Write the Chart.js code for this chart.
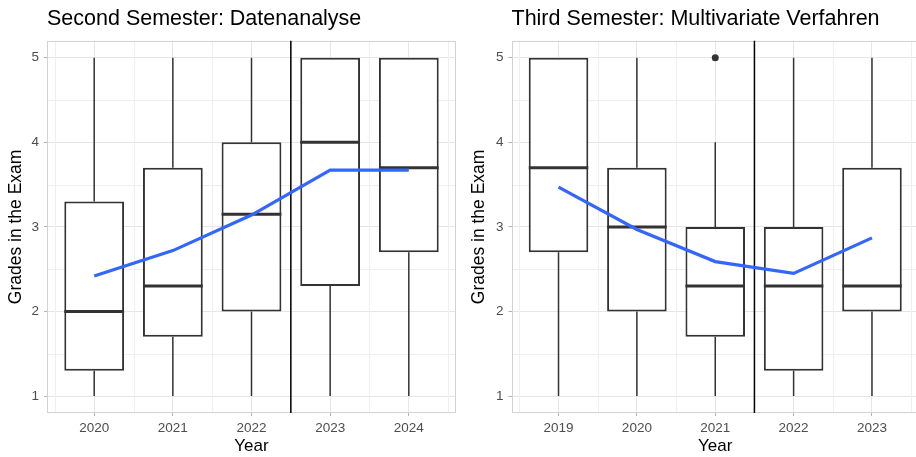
<!DOCTYPE html>
<html>
<head>
<meta charset="utf-8">
<script src="https://cdn.jsdelivr.net/npm/chart.js@4/dist/chart.umd.min.js"></script>
<style>
    html, body { margin: 0; padding: 0; background: #fff; }
    body { width: 916px; height: 457px; overflow: hidden; position: relative; }
    canvas { position: absolute; top: 0; }
    #left { left: 0; }
    #right { left: 458px; }
</style>
</head>
<body>
<canvas id="left" width="458" height="457"></canvas>
<canvas id="right" width="461" height="457"></canvas>
<script>
// Second semester: Datenanalyse
const years2 = ['2020', '2021', '2022', '2023', '2024'];
const low2 = [1, 1, 1, 1, 1];
const q1Sem2 = [1.3, 1.7, 2.0, 2.3, 2.7];
const median2 = [2.0, 2.3, 3.15, 4.0, 3.7];
const q3Sem2 = [3.3, 3.7, 4.0, 5.0, 5.0];
const high2 = [5, 5, 5, 5, 5];
const mean2 = [2.42, 2.72, 3.14, 3.67, 3.67];
const outliers2 = [];
const split2 = 2.5; // between 2022 and 2023

// Third semester: Multivariate Verfahren
const years3 = ['2019', '2020', '2021', '2022', '2023'];
const low3 = [1, 1, 1, 1, 1];
const q1Sem3 = [2.7, 2.0, 1.7, 1.3, 2.0];
const median3 = [3.7, 3.0, 2.3, 2.3, 2.3];
const q3Sem3 = [5.0, 3.7, 3.0, 3.0, 3.7];
const high3 = [5, 5, 4, 5, 5];
const mean3 = [3.47, 2.97, 2.59, 2.45, 2.87];
const outliers3 = [{ year: '2021', value: 5 }];
const split3 = 2.5; // between 2021 and 2022

const yTicks = [1, 2, 3, 4, 5];
const yMinor = [1.5, 2.5, 3.5, 4.5];

Chart.defaults.font.family = '"Liberation Sans", Arial, sans-serif';
Chart.defaults.animation = false;

const ink = '#333333';

// whiskers, medians, minor grid, panel border and the split line
function boxParts(p) {
    return {
        id: 'boxParts',
        beforeDatasetsDraw(chart) {
            const { ctx, chartArea: a, scales: { x, y } } = chart;
            ctx.save();
            ctx.strokeStyle = '#EFEFEF';
            ctx.lineWidth = 1;
            ctx.beginPath();
            yMinor.forEach((v) => {
                const py = Math.round(y.getPixelForValue(v)) + 0.5;
                ctx.moveTo(a.left, py);
                ctx.lineTo(a.right, py);
            });
            for (let i = -0.5; i < p.years.length; i += 1) {
                const px = Math.round(x.getPixelForValue(i)) + 0.5;
                ctx.moveTo(px, a.top);
                ctx.lineTo(px, a.bottom);
            }
            ctx.stroke();
            ctx.strokeStyle = '#D2D2D2';
            ctx.strokeRect(Math.round(a.left) + 0.5, Math.round(a.top) + 0.5,
                Math.round(a.width) - 1, Math.round(a.height) - 1);
            ctx.restore();
        },
        beforeDatasetDraw(chart, args) {
            if (args.meta.type !== 'bar') return;
            const { ctx, scales: { x, y } } = chart;
            ctx.save();
            ctx.strokeStyle = ink;
            ctx.lineWidth = 1.5;
            ctx.beginPath();
            p.years.forEach((yr, i) => {
                const px = x.getPixelForValue(i);
                ctx.moveTo(px, y.getPixelForValue(p.low[i]));
                ctx.lineTo(px, y.getPixelForValue(p.q1[i]));
                ctx.moveTo(px, y.getPixelForValue(p.q3[i]));
                ctx.lineTo(px, y.getPixelForValue(p.high[i]));
            });
            ctx.stroke();
            ctx.restore();
        },
        afterDatasetDraw(chart, args) {
            if (args.meta.type !== 'bar') return;
            const { ctx, chartArea: a, scales: { x, y } } = chart;
            ctx.save();
            ctx.strokeStyle = ink;
            ctx.lineWidth = 3;
            ctx.beginPath();
            args.meta.data.forEach((bar, i) => {
                const py = y.getPixelForValue(p.median[i]);
                ctx.moveTo(bar.x - bar.width / 2, py);
                ctx.lineTo(bar.x + bar.width / 2, py);
            });
            ctx.stroke();
            ctx.strokeStyle = '#000';
            ctx.lineWidth = 1.5;
            ctx.beginPath();
            const sx = x.getPixelForValue(p.split);
            ctx.moveTo(sx, a.top);
            ctx.lineTo(sx, a.bottom);
            ctx.stroke();
            ctx.restore();
        }
    };
}

function makeChart(id, p) {
    new Chart(document.getElementById(id), {
        type: 'bar',
        data: {
            datasets: [
                {
                    type: 'line',
                    data: p.mean.map((v, i) => ({ x: i, y: v })),
                    borderColor: '#3366FF',
                    borderWidth: 3.2,
                    pointRadius: 0,
                    tension: 0
                },
                {
                    type: 'scatter',
                    data: p.outliers.map((o) => ({ x: p.years.indexOf(o.year), y: o.value })),
                    backgroundColor: ink,
                    borderWidth: 0,
                    pointRadius: 3.5
                },
                {
                    type: 'bar',
                    data: p.years.map((yr, i) => ({ x: i, y: [p.q1[i], p.q3[i]] })),
                    backgroundColor: '#FFFFFF',
                    borderColor: ink,
                    borderWidth: 2,
                    borderSkipped: false,
                    barPercentage: 0.76,
                    categoryPercentage: 1
                }
            ]
        },
        options: {
            responsive: false,
            layout: {
                autoPadding: false,
                padding: { left: p.padLeft, right: p.padRight, top: 0, bottom: 0 }
            },
            plugins: {
                legend: { display: false },
                tooltip: { enabled: false },
                title: {
                    display: true,
                    text: p.title,
                    align: 'start',
                    fullSize: false,
                    color: '#000',
                    font: { size: 21.5, weight: 'normal' },
                    padding: { top: 6, bottom: 9 }
                }
            },
            scales: {
                x: {
                    type: 'linear',
                    offset: false,
                    min: -0.6,
                    max: p.years.length - 0.4,
                    afterBuildTicks: (s) => { s.ticks = p.years.map((yr, i) => ({ value: i })); },
                    afterFit: (s) => {
                        s.height = 44;
                        s.paddingLeft = 0;
                        s.paddingRight = 0;
                    },
                    ticks: {
                        autoSkip: false,
                        maxRotation: 0,
                        color: '#4D4D4D',
                        font: { size: 13.5 },
                        padding: 4,
                        callback: (v) => p.years[v]
                    },
                    grid: { color: '#E6E6E6', tickColor: '#B3B3B3', tickLength: 3, offset: false },
                    border: { display: false },
                    title: { display: true, text: 'Year', color: '#000', font: { size: 17 }, padding: 0 }
                },
                y: {
                    min: 0.8,
                    max: 5.2,
                    afterBuildTicks: (s) => { s.ticks = yTicks.map((v) => ({ value: v })); },
                    afterFit: (s) => {
                        s.width = p.yWidth;
                        s.paddingTop = 0;
                        s.paddingBottom = 0;
                    },
                    ticks: { color: '#4D4D4D', font: { size: 13.5 }, padding: 5, callback: (v) => String(v) },
                    grid: { color: '#E6E6E6', tickColor: '#B3B3B3', tickLength: 3 },
                    border: { display: false },
                    title: { display: true, text: 'Grades in the Exam', color: '#000', font: { size: 17.5 }, padding: 0 }
                }
            }
        },
        plugins: [boxParts(p)]
    });
}

makeChart('left', {
    title: 'Second Semester: Datenanalyse',
    years: years2, low: low2, q1: q1Sem2, median: median2, q3: q3Sem2, high: high2,
    mean: mean2, outliers: outliers2, split: split2,
    padLeft: 6, padRight: 2, yWidth: 41
});

makeChart('right', {
    title: 'Third Semester: Multivariate Verfahren',
    years: years3, low: low3, q1: q1Sem3, median: median3, q3: q3Sem3, high: high3,
    mean: mean3, outliers: outliers3, split: split3,
    padLeft: 10.5, padRight: 0, yWidth: 43
});
</script>
</body>
</html>
